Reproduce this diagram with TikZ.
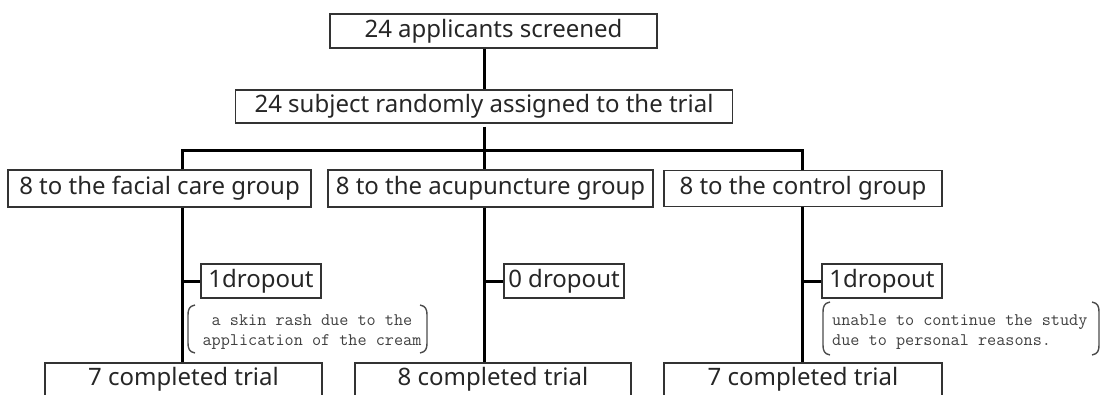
\documentclass[tikz,border=0pt]{standalone}
\usepackage{fontspec}
\setmainfont{Noto Sans}
\begin{document}
\begin{tikzpicture}[x=1pt,y=-1pt,
  box/.style={draw=black!80, line width=1.3pt, inner sep=0pt, font=\fontsize{24}{28}\selectfont, text=black!85},
  conn/.style={line width=3pt, black},
  note/.style={font=\ttfamily\fontsize{17.7}{20}\selectfont, text=black!75, inner sep=0pt, anchor=base},
  brk/.style={line width=1.4pt, black!70}]
\useasboundingbox (0,0) rectangle (1102,394);
% boxes
\node[box, minimum width=327, minimum height=34] (b1) at (493.5,31) {24 applicants screened};
\node[box, minimum width=497, minimum height=33] (b2) at (484,106.5) {24 subject randomly assigned to the trial};
\node[box, minimum width=303, minimum height=37] (g1) at (159.5,188.5) {8 to the facial care group};
\node[box, minimum width=325, minimum height=37] (g2) at (490.5,188.5) {8 to the acupuncture group};
\node[box, minimum width=278, minimum height=36] (g3) at (803,188.5) {8 to the control group};
\node[box, minimum width=120, minimum height=34] (d1) at (261,281) {1dropout};
\node[box, minimum width=120, minimum height=34] (d2) at (564,281) {0 dropout};
\node[box, minimum width=120, minimum height=34] (d3) at (882,281) {1dropout};
\node[box, minimum width=277, minimum height=33] (c1) at (183.5,379.5) {7 completed trial};
\node[box, minimum width=276, minimum height=33] (c2) at (493,379.5) {8 completed trial};
\node[box, minimum width=278, minimum height=33] (c3) at (803,379.5) {7 completed trial};
% junctions
\coordinate (j1) at (182,150);
\coordinate (j2) at (484,150);
\coordinate (j3) at (802,150);
\coordinate (b2gap) at ([yshift=-3pt]b2.south);
% connectors
\draw[conn] (b1.south -| j2) -- (b2.north -| j2);
\draw[conn] (b2gap) -- (j2 |- g2.north);
\draw[conn] (j1 |- g1.north) -- (j1) -- (j3) -- (j3 |- g3.north);
\draw[conn] (j1 |- g1.south) -- (j1 |- c1.north);
\draw[conn] (j2 |- g2.south) -- (j2 |- c2.north);
\draw[conn] (j3 |- g3.south) -- (j3 |- c3.north);
\draw[conn] (j1 |- d1.west) -- (d1.west);
\draw[conn] (j2 |- d2.west) -- (d2.west);
\draw[conn] (j3 |- d3.west) -- (d3.west);
% notes
\node[note] (n1a) at (312,325) {a skin rash due to the};
\node[note] (n1b) at (312,345) {application of the cream};
\node[note, anchor=base west] (n3a) at (832,325) {unable to continue the study};
\node[note, anchor=base west] (n3b) at (832,345) {due to personal reasons.};
% brackets
\draw[brk] (195,305) .. controls (189,306) and (188,310) .. (188,315) -- (188,343) .. controls (188,348) and (189,352) .. (195,353);
\draw[brk] (420,305) .. controls (426,306) and (427,310) .. (427,315) -- (427,343) .. controls (427,348) and (426,352) .. (420,353);
\draw[brk] (830,302) .. controls (824,303) and (823,307) .. (823,312) -- (823,345) .. controls (823,350) and (824,354) .. (830,355);
\draw[brk] (1092,302) .. controls (1098,303) and (1099,307) .. (1099,312) -- (1099,345) .. controls (1099,350) and (1098,354) .. (1092,355);
\end{tikzpicture}
\end{document}
